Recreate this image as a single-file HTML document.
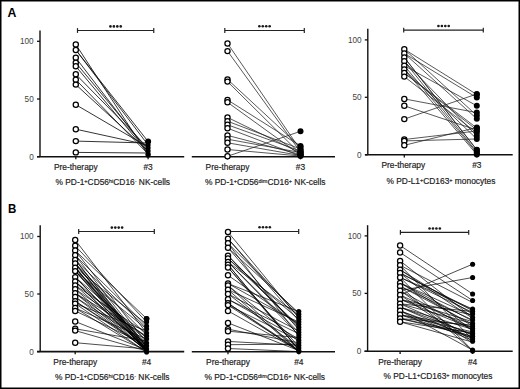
<!DOCTYPE html>
<html><head><meta charset="utf-8"><style>
html,body{margin:0;padding:0;background:#fff;}
body{width:520px;height:389px;overflow:hidden;}
svg{display:block;}
text{font-family:"Liberation Sans", sans-serif;}
.ya{stroke:#111;stroke-width:1.4;}
.xa{stroke:#111;stroke-width:1.6;}
.tk{stroke:#111;stroke-width:1.3;}
.sb{stroke:#222;stroke-width:1.2;}
.st{fill:#1a1a1a;}
.yl{font-size:8.2px;fill:#444;text-anchor:end;}
.xl{font-size:8.4px;fill:#222;stroke:#222;stroke-width:0.18px;}
.tt{font-size:8.4px;fill:#222;stroke:#222;stroke-width:0.18px;}
.sup{font-size:5.5px;}
.oc circle{fill:#fff;stroke:#000;stroke-width:1.25;}
.fc circle{fill:#000;}
.pl{font-size:12.3px;font-weight:bold;fill:#000;}
</style></head><body>
<svg width="520" height="389" viewBox="0 0 520 389">
<rect x="0.75" y="0.75" width="518.5" height="387.5" fill="#fff" stroke="#000" stroke-width="1.5"/>
<text x="7.4" y="16.8" class="pl">A</text>
<text x="8" y="212.9" class="pl" transform="translate(8 0) scale(0.94 1) translate(-8 0)">B</text>
<line x1="40" y1="30.5" x2="40" y2="156.7" class="ya"/>
<line x1="37" y1="41.3" x2="40" y2="41.3" class="tk"/>
<text x="33.7" y="44.2" class="yl">100</text>
<line x1="37" y1="99" x2="40" y2="99" class="tk"/>
<text x="33.7" y="101.9" class="yl">50</text>
<line x1="37" y1="156.7" x2="40" y2="156.7" class="tk"/>
<text x="33.7" y="159.6" class="yl">0</text>
<line x1="37" y1="156.7" x2="184.2" y2="156.7" class="xa"/>
<line x1="75.8" y1="156.7" x2="75.8" y2="159.3" class="tk"/>
<line x1="148.1" y1="156.7" x2="148.1" y2="159.3" class="tk"/>
<line x1="77.5" y1="30.5" x2="153.75" y2="30.5" class="sb"/>
<line x1="77.5" y1="28.1" x2="77.5" y2="32.9" class="sb"/>
<line x1="153.75" y1="28.1" x2="153.75" y2="32.9" class="sb"/>
<circle cx="110.45" cy="26.4" r="1.3" class="st"/>
<circle cx="113.88" cy="26.4" r="1.3" class="st"/>
<circle cx="117.31" cy="26.4" r="1.3" class="st"/>
<circle cx="120.74" cy="26.4" r="1.3" class="st"/>
<g stroke="#111" stroke-width="0.85"><line x1="75.8" y1="44.5" x2="148.1" y2="155"/><line x1="75.8" y1="49.9" x2="148.1" y2="141.5"/><line x1="75.8" y1="49.9" x2="148.1" y2="145"/><line x1="75.8" y1="57.8" x2="148.1" y2="152"/><line x1="75.8" y1="62.7" x2="148.1" y2="150"/><line x1="75.8" y1="66.3" x2="148.1" y2="153"/><line x1="75.8" y1="74.3" x2="148.1" y2="148"/><line x1="75.8" y1="79.7" x2="148.1" y2="154"/><line x1="75.8" y1="84.6" x2="148.1" y2="151"/><line x1="75.8" y1="104.7" x2="148.1" y2="147"/><line x1="75.8" y1="129.2" x2="148.1" y2="145"/><line x1="75.8" y1="141.1" x2="148.1" y2="143"/><line x1="75.8" y1="152.4" x2="148.1" y2="153"/></g>
<g class="oc"><circle cx="75.8" cy="44.5" r="2.6"/><circle cx="75.8" cy="49.9" r="2.6"/><circle cx="75.8" cy="57.8" r="2.6"/><circle cx="75.8" cy="62.7" r="2.6"/><circle cx="75.8" cy="66.3" r="2.6"/><circle cx="75.8" cy="74.3" r="2.6"/><circle cx="75.8" cy="79.7" r="2.6"/><circle cx="75.8" cy="84.6" r="2.6"/><circle cx="75.8" cy="104.7" r="2.6"/><circle cx="75.8" cy="129.2" r="2.6"/><circle cx="75.8" cy="141.1" r="2.6"/><circle cx="75.8" cy="152.4" r="2.6"/></g>
<g class="fc"><circle cx="148.1" cy="141.5" r="2.55"/><circle cx="148.1" cy="145" r="2.55"/><circle cx="148.1" cy="148" r="2.55"/><circle cx="148.1" cy="151" r="2.55"/><circle cx="148.1" cy="154" r="2.55"/><circle cx="148.1" cy="155" r="2.55"/></g>
<circle cx="148.1" cy="141.6" r="3"/>
<text x="75.8" y="170.2" class="xl" text-anchor="middle">Pre-therapy</text>
<text x="148.1" y="170.2" class="xl" text-anchor="middle">#3</text>
<text x="55.5" y="184.5" class="tt">% PD-1<tspan class="sup" dy="-2">+</tspan><tspan dy="2">CD56</tspan><tspan class="sup" dy="-2">hi</tspan><tspan dy="2">CD16</tspan><tspan class="sup" dy="-2">-</tspan><tspan dy="2"> NK-cells</tspan></text>
<line x1="191.8" y1="156.8" x2="335" y2="156.8" class="xa"/>
<line x1="227.5" y1="156.8" x2="227.5" y2="159.4" class="tk"/>
<line x1="300.5" y1="156.8" x2="300.5" y2="159.4" class="tk"/>
<line x1="224.8" y1="30.5" x2="304.3" y2="30.5" class="sb"/>
<line x1="224.8" y1="28.1" x2="224.8" y2="32.9" class="sb"/>
<line x1="304.3" y1="28.1" x2="304.3" y2="32.9" class="sb"/>
<circle cx="259.35" cy="26.2" r="1.3" class="st"/>
<circle cx="262.78" cy="26.2" r="1.3" class="st"/>
<circle cx="266.21" cy="26.2" r="1.3" class="st"/>
<circle cx="269.64" cy="26.2" r="1.3" class="st"/>
<g stroke="#222" stroke-width="0.75"><line x1="227.5" y1="43.4" x2="300.5" y2="150"/><line x1="227.5" y1="51.1" x2="300.5" y2="152"/><line x1="227.5" y1="79.4" x2="300.5" y2="147"/><line x1="227.5" y1="81.6" x2="300.5" y2="154"/><line x1="227.5" y1="99.9" x2="300.5" y2="146"/><line x1="227.5" y1="102.3" x2="300.5" y2="155"/><line x1="227.5" y1="117.4" x2="300.5" y2="153"/><line x1="227.5" y1="121.2" x2="300.5" y2="149"/><line x1="227.5" y1="124.8" x2="300.5" y2="151"/><line x1="227.5" y1="128.2" x2="300.5" y2="156"/><line x1="227.5" y1="135.4" x2="300.5" y2="154.5"/><line x1="227.5" y1="139.2" x2="300.5" y2="152.5"/><line x1="227.5" y1="142.8" x2="300.5" y2="155.5"/><line x1="227.5" y1="149.5" x2="300.5" y2="156"/><line x1="227.5" y1="156.3" x2="300.5" y2="131.3"/></g>
<g class="oc"><circle cx="227.5" cy="43.4" r="2.6"/><circle cx="227.5" cy="51.1" r="2.6"/><circle cx="227.5" cy="79.4" r="2.6"/><circle cx="227.5" cy="81.6" r="2.6"/><circle cx="227.5" cy="99.9" r="2.6"/><circle cx="227.5" cy="102.3" r="2.6"/><circle cx="227.5" cy="117.4" r="2.6"/><circle cx="227.5" cy="121.2" r="2.6"/><circle cx="227.5" cy="124.8" r="2.6"/><circle cx="227.5" cy="128.2" r="2.6"/><circle cx="227.5" cy="135.4" r="2.6"/><circle cx="227.5" cy="139.2" r="2.6"/><circle cx="227.5" cy="142.8" r="2.6"/><circle cx="227.5" cy="149.5" r="2.6"/><circle cx="227.5" cy="156.3" r="2.6"/></g>
<g class="fc"><circle cx="300.5" cy="131.3" r="3.0"/><circle cx="300.5" cy="146" r="3.0"/><circle cx="300.5" cy="147" r="3.0"/><circle cx="300.5" cy="149" r="3.0"/><circle cx="300.5" cy="150" r="3.0"/><circle cx="300.5" cy="151" r="3.0"/><circle cx="300.5" cy="152" r="3.0"/><circle cx="300.5" cy="152.5" r="3.0"/><circle cx="300.5" cy="153" r="3.0"/><circle cx="300.5" cy="154" r="3.0"/><circle cx="300.5" cy="154.5" r="3.0"/><circle cx="300.5" cy="155" r="3.0"/><circle cx="300.5" cy="155.5" r="3.0"/><circle cx="300.5" cy="156" r="3.0"/></g>
<text x="227.5" y="170.2" class="xl" text-anchor="middle">Pre-therapy</text>
<text x="300.5" y="170.2" class="xl" text-anchor="middle">#3</text>
<text x="205" y="184.5" class="tt">% PD-1<tspan class="sup" dy="-2">+</tspan><tspan dy="2">CD56</tspan><tspan class="sup" dy="-2">dim</tspan><tspan dy="2">CD16</tspan><tspan class="sup" dy="-2">+</tspan><tspan dy="2"> NK-cells</tspan></text>
<line x1="367.8" y1="28.7" x2="367.8" y2="154.8" class="ya"/>
<line x1="364.8" y1="39.9" x2="367.8" y2="39.9" class="tk"/>
<text x="361.6" y="42.8" class="yl">100</text>
<line x1="364.8" y1="97.3" x2="367.8" y2="97.3" class="tk"/>
<text x="361.6" y="100.2" class="yl">50</text>
<line x1="364.8" y1="154.8" x2="367.8" y2="154.8" class="tk"/>
<text x="361.6" y="157.7" class="yl">0</text>
<line x1="365" y1="154.8" x2="512.7" y2="154.8" class="xa"/>
<line x1="404.3" y1="154.8" x2="404.3" y2="157.4" class="tk"/>
<line x1="476.8" y1="154.8" x2="476.8" y2="157.4" class="tk"/>
<line x1="403.7" y1="30.1" x2="483.3" y2="30.1" class="sb"/>
<line x1="403.7" y1="27.7" x2="403.7" y2="32.5" class="sb"/>
<line x1="483.3" y1="27.7" x2="483.3" y2="32.5" class="sb"/>
<circle cx="438.45" cy="26" r="1.3" class="st"/>
<circle cx="441.88" cy="26" r="1.3" class="st"/>
<circle cx="445.31" cy="26" r="1.3" class="st"/>
<circle cx="448.74" cy="26" r="1.3" class="st"/>
<g stroke="#222" stroke-width="0.75"><line x1="404.3" y1="49.3" x2="476.8" y2="94.5"/><line x1="404.3" y1="53.4" x2="476.8" y2="97.6"/><line x1="404.3" y1="57.5" x2="476.8" y2="150"/><line x1="404.3" y1="61.2" x2="476.8" y2="152"/><line x1="404.3" y1="65.7" x2="476.8" y2="105.8"/><line x1="404.3" y1="69.4" x2="476.8" y2="154.5"/><line x1="404.3" y1="72.9" x2="476.8" y2="128"/><line x1="404.3" y1="76.6" x2="476.8" y2="133"/><line x1="404.3" y1="49.3" x2="476.8" y2="115.5"/><line x1="404.3" y1="53.4" x2="476.8" y2="118.8"/><line x1="404.3" y1="57.5" x2="476.8" y2="149.7"/><line x1="404.3" y1="61.2" x2="476.8" y2="136"/><line x1="404.3" y1="65.7" x2="476.8" y2="153"/><line x1="404.3" y1="69.4" x2="476.8" y2="139"/><line x1="404.3" y1="72.9" x2="476.8" y2="130"/><line x1="404.3" y1="98.9" x2="476.8" y2="112.6"/><line x1="404.3" y1="105.8" x2="476.8" y2="130"/><line x1="404.3" y1="119.1" x2="476.8" y2="94"/><line x1="404.3" y1="139.5" x2="476.8" y2="131"/><line x1="404.3" y1="140.9" x2="476.8" y2="139"/><line x1="404.3" y1="145.3" x2="476.8" y2="127.5"/></g>
<g class="oc"><circle cx="404.3" cy="49.3" r="2.6"/><circle cx="404.3" cy="53.4" r="2.6"/><circle cx="404.3" cy="57.5" r="2.6"/><circle cx="404.3" cy="61.2" r="2.6"/><circle cx="404.3" cy="65.7" r="2.6"/><circle cx="404.3" cy="69.4" r="2.6"/><circle cx="404.3" cy="72.9" r="2.6"/><circle cx="404.3" cy="76.6" r="2.6"/><circle cx="404.3" cy="98.9" r="2.6"/><circle cx="404.3" cy="105.8" r="2.6"/><circle cx="404.3" cy="119.1" r="2.6"/><circle cx="404.3" cy="139.5" r="2.6"/><circle cx="404.3" cy="140.9" r="2.6"/><circle cx="404.3" cy="145.3" r="2.6"/></g>
<g class="fc"><circle cx="476.8" cy="94" r="3.0"/><circle cx="476.8" cy="94.5" r="3.0"/><circle cx="476.8" cy="97.6" r="3.0"/><circle cx="476.8" cy="105.8" r="3.0"/><circle cx="476.8" cy="112.6" r="3.0"/><circle cx="476.8" cy="115.5" r="3.0"/><circle cx="476.8" cy="118.8" r="3.0"/><circle cx="476.8" cy="127.5" r="3.0"/><circle cx="476.8" cy="128" r="3.0"/><circle cx="476.8" cy="130" r="3.0"/><circle cx="476.8" cy="131" r="3.0"/><circle cx="476.8" cy="133" r="3.0"/><circle cx="476.8" cy="136" r="3.0"/><circle cx="476.8" cy="139" r="3.0"/><circle cx="476.8" cy="149.7" r="3.0"/><circle cx="476.8" cy="150" r="3.0"/><circle cx="476.8" cy="152" r="3.0"/><circle cx="476.8" cy="153" r="3.0"/><circle cx="476.8" cy="154.5" r="3.0"/></g>
<text x="403.3" y="168.4" class="xl" text-anchor="middle">Pre-therapy</text>
<text x="476.8" y="168.4" class="xl" text-anchor="middle">#3</text>
<text x="386.5" y="184" class="tt">% PD-L1<tspan class="sup" dy="-2">+</tspan><tspan dy="2">CD163</tspan><tspan class="sup" dy="-2">+</tspan><tspan dy="2"> monocytes</tspan></text>
<line x1="40.2" y1="225.3" x2="40.2" y2="351.6" class="ya"/>
<line x1="37.2" y1="236.5" x2="40.2" y2="236.5" class="tk"/>
<text x="33.7" y="239.4" class="yl">100</text>
<line x1="37.2" y1="294" x2="40.2" y2="294" class="tk"/>
<text x="33.7" y="296.9" class="yl">50</text>
<line x1="37.2" y1="351.6" x2="40.2" y2="351.6" class="tk"/>
<text x="33.7" y="354.5" class="yl">0</text>
<line x1="37" y1="351.6" x2="184.2" y2="351.6" class="xa"/>
<line x1="75.2" y1="351.6" x2="75.2" y2="354.2" class="tk"/>
<line x1="146.6" y1="351.6" x2="146.6" y2="354.2" class="tk"/>
<line x1="78.7" y1="231.5" x2="154.3" y2="231.5" class="sb"/>
<line x1="78.7" y1="229.1" x2="78.7" y2="233.9" class="sb"/>
<line x1="154.3" y1="229.1" x2="154.3" y2="233.9" class="sb"/>
<circle cx="111.85" cy="227.6" r="1.3" class="st"/>
<circle cx="115.28" cy="227.6" r="1.3" class="st"/>
<circle cx="118.71" cy="227.6" r="1.3" class="st"/>
<circle cx="122.14" cy="227.6" r="1.3" class="st"/>
<g stroke="#000" stroke-width="0.7"><line x1="75.2" y1="240" x2="146.6" y2="333"/><line x1="75.2" y1="245.8" x2="146.6" y2="322"/><line x1="75.2" y1="250.5" x2="146.6" y2="318.6"/><line x1="75.2" y1="255.3" x2="146.6" y2="326"/><line x1="75.2" y1="259.9" x2="146.6" y2="350"/><line x1="75.2" y1="263.5" x2="146.6" y2="335"/><line x1="75.2" y1="267.8" x2="146.6" y2="346"/><line x1="75.2" y1="271.1" x2="146.6" y2="329"/><line x1="75.2" y1="277.1" x2="146.6" y2="351"/><line x1="75.2" y1="281.5" x2="146.6" y2="340"/><line x1="75.2" y1="285.4" x2="146.6" y2="348"/><line x1="75.2" y1="289.2" x2="146.6" y2="337"/><line x1="75.2" y1="293.1" x2="146.6" y2="351"/><line x1="75.2" y1="297" x2="146.6" y2="343"/><line x1="75.2" y1="301.2" x2="146.6" y2="349"/><line x1="75.2" y1="303.6" x2="146.6" y2="331"/><line x1="75.2" y1="308" x2="146.6" y2="352"/><line x1="75.2" y1="310.9" x2="146.6" y2="345"/><line x1="75.2" y1="321.5" x2="146.6" y2="350"/><line x1="75.2" y1="328.8" x2="146.6" y2="341"/><line x1="75.2" y1="330.6" x2="146.6" y2="351"/><line x1="75.2" y1="342.7" x2="146.6" y2="349"/><line x1="75.2" y1="263.5" x2="146.6" y2="351"/><line x1="75.2" y1="267.8" x2="146.6" y2="324"/><line x1="75.2" y1="267.8" x2="146.6" y2="349"/><line x1="75.2" y1="271.1" x2="146.6" y2="352"/><line x1="75.2" y1="277.1" x2="146.6" y2="338"/><line x1="75.2" y1="281.5" x2="146.6" y2="350"/><line x1="75.2" y1="285.4" x2="146.6" y2="333"/><line x1="75.2" y1="289.2" x2="146.6" y2="351"/><line x1="75.2" y1="293.1" x2="146.6" y2="344"/><line x1="75.2" y1="297" x2="146.6" y2="350"/><line x1="75.2" y1="301.2" x2="146.6" y2="347"/><line x1="75.2" y1="303.6" x2="146.6" y2="352"/><line x1="75.2" y1="308" x2="146.6" y2="339"/><line x1="75.2" y1="255.3" x2="146.6" y2="347"/><line x1="75.2" y1="250.5" x2="146.6" y2="343"/><line x1="75.2" y1="259.9" x2="146.6" y2="328"/><line x1="75.2" y1="281.5" x2="146.6" y2="352"/><line x1="75.2" y1="293.1" x2="146.6" y2="336"/><line x1="75.2" y1="271.1" x2="146.6" y2="344"/><line x1="75.2" y1="263.5" x2="146.6" y2="350"/><line x1="75.2" y1="267.8" x2="146.6" y2="351"/><line x1="75.2" y1="271.1" x2="146.6" y2="349"/><line x1="75.2" y1="259.9" x2="146.6" y2="348"/><line x1="75.2" y1="267.8" x2="146.6" y2="352"/><line x1="75.2" y1="277.1" x2="146.6" y2="350"/><line x1="75.2" y1="263.5" x2="146.6" y2="347"/></g>
<g class="oc"><circle cx="75.2" cy="240" r="2.6"/><circle cx="75.2" cy="245.8" r="2.6"/><circle cx="75.2" cy="250.5" r="2.6"/><circle cx="75.2" cy="255.3" r="2.6"/><circle cx="75.2" cy="259.9" r="2.6"/><circle cx="75.2" cy="263.5" r="2.6"/><circle cx="75.2" cy="267.8" r="2.6"/><circle cx="75.2" cy="271.1" r="2.6"/><circle cx="75.2" cy="277.1" r="2.6"/><circle cx="75.2" cy="281.5" r="2.6"/><circle cx="75.2" cy="285.4" r="2.6"/><circle cx="75.2" cy="289.2" r="2.6"/><circle cx="75.2" cy="293.1" r="2.6"/><circle cx="75.2" cy="297" r="2.6"/><circle cx="75.2" cy="301.2" r="2.6"/><circle cx="75.2" cy="303.6" r="2.6"/><circle cx="75.2" cy="308" r="2.6"/><circle cx="75.2" cy="310.9" r="2.6"/><circle cx="75.2" cy="321.5" r="2.6"/><circle cx="75.2" cy="328.8" r="2.6"/><circle cx="75.2" cy="330.6" r="2.6"/><circle cx="75.2" cy="342.7" r="2.6"/></g>
<g class="fc"><circle cx="146.6" cy="318.6" r="2.55"/><circle cx="146.6" cy="322" r="2.55"/><circle cx="146.6" cy="326" r="2.55"/><circle cx="146.6" cy="329" r="2.55"/><circle cx="146.6" cy="333" r="2.55"/><circle cx="146.6" cy="336" r="2.55"/><circle cx="146.6" cy="339" r="2.55"/><circle cx="146.6" cy="343" r="2.55"/><circle cx="146.6" cy="346" r="2.55"/><circle cx="146.6" cy="349" r="2.55"/><circle cx="146.6" cy="352" r="2.55"/></g>
<circle cx="146.6" cy="318.8" r="2.9"/>
<text x="75.2" y="365" class="xl" text-anchor="middle">Pre-therapy</text>
<text x="146.6" y="365" class="xl" text-anchor="middle">#4</text>
<text x="55" y="379.6" class="tt">% PD-1<tspan class="sup" dy="-2">+</tspan><tspan dy="2">CD56</tspan><tspan class="sup" dy="-2">hi</tspan><tspan dy="2">CD16</tspan><tspan class="sup" dy="-2">-</tspan><tspan dy="2"> NK-cells</tspan></text>
<line x1="191.8" y1="351.7" x2="335" y2="351.7" class="xa"/>
<line x1="228" y1="351.7" x2="228" y2="354.3" class="tk"/>
<line x1="298.8" y1="351.7" x2="298.8" y2="354.3" class="tk"/>
<line x1="228" y1="231.5" x2="298.7" y2="231.5" class="sb"/>
<line x1="228" y1="229.1" x2="228" y2="233.9" class="sb"/>
<line x1="298.7" y1="229.1" x2="298.7" y2="233.9" class="sb"/>
<circle cx="259.55" cy="227.3" r="1.3" class="st"/>
<circle cx="262.98" cy="227.3" r="1.3" class="st"/>
<circle cx="266.41" cy="227.3" r="1.3" class="st"/>
<circle cx="269.84" cy="227.3" r="1.3" class="st"/>
<g stroke="#000" stroke-width="0.7"><line x1="228" y1="232" x2="298.8" y2="318.1"/><line x1="228" y1="238.7" x2="298.8" y2="320.7"/><line x1="228" y1="243.3" x2="298.8" y2="336.3"/><line x1="228" y1="247.8" x2="298.8" y2="329.8"/><line x1="228" y1="255.7" x2="298.8" y2="327.2"/><line x1="228" y1="258.5" x2="298.8" y2="319.4"/><line x1="228" y1="262" x2="298.8" y2="332.4"/><line x1="228" y1="264.7" x2="298.8" y2="349.75"/><line x1="228" y1="267.5" x2="298.8" y2="349.3"/><line x1="228" y1="275.3" x2="298.8" y2="324.6"/><line x1="228" y1="283.5" x2="298.8" y2="311.6"/><line x1="228" y1="285.5" x2="298.8" y2="351.25"/><line x1="228" y1="289.7" x2="298.8" y2="351.48"/><line x1="228" y1="293.9" x2="298.8" y2="348"/><line x1="228" y1="299.3" x2="298.8" y2="338.9"/><line x1="228" y1="303.2" x2="298.8" y2="350.18"/><line x1="228" y1="305.1" x2="298.8" y2="350.6"/><line x1="228" y1="310.9" x2="298.8" y2="350.73"/><line x1="228" y1="322.9" x2="298.8" y2="350.6"/><line x1="228" y1="329.2" x2="298.8" y2="342.8"/><line x1="228" y1="331.2" x2="298.8" y2="337.6"/><line x1="228" y1="341.4" x2="298.8" y2="345.4"/><line x1="228" y1="344.7" x2="298.8" y2="344.1"/><line x1="228" y1="348.5" x2="298.8" y2="351.59"/><line x1="228" y1="255.7" x2="298.8" y2="328.5"/><line x1="228" y1="258.5" x2="298.8" y2="325.9"/><line x1="228" y1="262" x2="298.8" y2="335"/><line x1="228" y1="264.7" x2="298.8" y2="350.09"/><line x1="228" y1="283.5" x2="298.8" y2="323.3"/><line x1="228" y1="285.5" x2="298.8" y2="341.5"/><line x1="228" y1="289.7" x2="298.8" y2="322"/><line x1="228" y1="293.9" x2="298.8" y2="331.1"/><line x1="228" y1="299.3" x2="298.8" y2="333.7"/><line x1="228" y1="303.2" x2="298.8" y2="351.53"/><line x1="228" y1="305.1" x2="298.8" y2="340.2"/><line x1="228" y1="243.3" x2="298.8" y2="314.2"/><line x1="228" y1="247.8" x2="298.8" y2="312.9"/><line x1="228" y1="238.7" x2="298.8" y2="316.8"/><line x1="228" y1="267.5" x2="298.8" y2="346.7"/><line x1="228" y1="262" x2="298.8" y2="315.5"/></g>
<g class="oc"><circle cx="228" cy="232" r="2.6"/><circle cx="228" cy="238.7" r="2.6"/><circle cx="228" cy="243.3" r="2.6"/><circle cx="228" cy="247.8" r="2.6"/><circle cx="228" cy="255.7" r="2.6"/><circle cx="228" cy="258.5" r="2.6"/><circle cx="228" cy="262" r="2.6"/><circle cx="228" cy="264.7" r="2.6"/><circle cx="228" cy="267.5" r="2.6"/><circle cx="228" cy="275.3" r="2.6"/><circle cx="228" cy="283.5" r="2.6"/><circle cx="228" cy="285.5" r="2.6"/><circle cx="228" cy="289.7" r="2.6"/><circle cx="228" cy="293.9" r="2.6"/><circle cx="228" cy="299.3" r="2.6"/><circle cx="228" cy="303.2" r="2.6"/><circle cx="228" cy="305.1" r="2.6"/><circle cx="228" cy="310.9" r="2.6"/><circle cx="228" cy="322.9" r="2.6"/><circle cx="228" cy="329.2" r="2.6"/><circle cx="228" cy="331.2" r="2.6"/><circle cx="228" cy="341.4" r="2.6"/><circle cx="228" cy="344.7" r="2.6"/><circle cx="228" cy="348.5" r="2.6"/></g>
<g class="fc"><circle cx="298.8" cy="311.6" r="2.55"/><circle cx="298.8" cy="314.2" r="2.55"/><circle cx="298.8" cy="316.8" r="2.55"/><circle cx="298.8" cy="319.4" r="2.55"/><circle cx="298.8" cy="322" r="2.55"/><circle cx="298.8" cy="324.6" r="2.55"/><circle cx="298.8" cy="327.2" r="2.55"/><circle cx="298.8" cy="329.8" r="2.55"/><circle cx="298.8" cy="332.4" r="2.55"/><circle cx="298.8" cy="335" r="2.55"/><circle cx="298.8" cy="337.6" r="2.55"/><circle cx="298.8" cy="340.2" r="2.55"/><circle cx="298.8" cy="342.8" r="2.55"/><circle cx="298.8" cy="345.4" r="2.55"/><circle cx="298.8" cy="348" r="2.55"/><circle cx="298.8" cy="350.6" r="2.55"/><circle cx="298.8" cy="351.59" r="2.55"/></g>
<text x="228" y="365" class="xl" text-anchor="middle">Pre-therapy</text>
<text x="298.8" y="365" class="xl" text-anchor="middle">#4</text>
<text x="204.5" y="379.6" class="tt">% PD-1<tspan class="sup" dy="-2">+</tspan><tspan dy="2">CD56</tspan><tspan class="sup" dy="-2">dim</tspan><tspan dy="2">CD16</tspan><tspan class="sup" dy="-2">+</tspan><tspan dy="2"> NK-cells</tspan></text>
<line x1="367.6" y1="225.2" x2="367.6" y2="351.3" class="ya"/>
<line x1="364.6" y1="235.9" x2="367.6" y2="235.9" class="tk"/>
<text x="361.4" y="238.8" class="yl">100</text>
<line x1="364.6" y1="293.4" x2="367.6" y2="293.4" class="tk"/>
<text x="361.4" y="296.3" class="yl">50</text>
<line x1="364.6" y1="351.3" x2="367.6" y2="351.3" class="tk"/>
<text x="361.4" y="354.2" class="yl">0</text>
<line x1="364.5" y1="351.3" x2="512.7" y2="351.3" class="xa"/>
<line x1="400.1" y1="351.3" x2="400.1" y2="353.9" class="tk"/>
<line x1="472.6" y1="351.3" x2="472.6" y2="353.9" class="tk"/>
<line x1="400.4" y1="232.4" x2="468.7" y2="232.4" class="sb"/>
<line x1="400.4" y1="230" x2="400.4" y2="234.8" class="sb"/>
<line x1="468.7" y1="230" x2="468.7" y2="234.8" class="sb"/>
<circle cx="429.55" cy="228.5" r="1.3" class="st"/>
<circle cx="432.98" cy="228.5" r="1.3" class="st"/>
<circle cx="436.41" cy="228.5" r="1.3" class="st"/>
<circle cx="439.84" cy="228.5" r="1.3" class="st"/>
<g stroke="#000" stroke-width="0.7"><line x1="400.1" y1="245.5" x2="472.6" y2="294"/><line x1="400.1" y1="252.5" x2="472.6" y2="300.5"/><line x1="400.1" y1="260.9" x2="472.6" y2="317.5"/><line x1="400.1" y1="265.3" x2="472.6" y2="302.5"/><line x1="400.1" y1="269.7" x2="472.6" y2="314.1"/><line x1="400.1" y1="273" x2="472.6" y2="309.85"/><line x1="400.1" y1="277.4" x2="472.6" y2="309"/><line x1="400.1" y1="282.9" x2="472.6" y2="315.8"/><line x1="400.1" y1="286.2" x2="472.6" y2="320.05"/><line x1="400.1" y1="290.6" x2="472.6" y2="277.5"/><line x1="400.1" y1="295" x2="472.6" y2="264.2"/><line x1="400.1" y1="299.4" x2="472.6" y2="321.75"/><line x1="400.1" y1="303.8" x2="472.6" y2="311.55"/><line x1="400.1" y1="307.1" x2="472.6" y2="338.75"/><line x1="400.1" y1="310.8" x2="472.6" y2="350.05"/><line x1="400.1" y1="314.8" x2="472.6" y2="331.95"/><line x1="400.1" y1="318.5" x2="472.6" y2="333.65"/><line x1="400.1" y1="321.8" x2="472.6" y2="332.8"/><line x1="400.1" y1="269.7" x2="472.6" y2="318.35"/><line x1="400.1" y1="273" x2="472.6" y2="310.7"/><line x1="400.1" y1="277.4" x2="472.6" y2="350.44"/><line x1="400.1" y1="282.9" x2="472.6" y2="326"/><line x1="400.1" y1="286.2" x2="472.6" y2="324.3"/><line x1="400.1" y1="290.6" x2="472.6" y2="341.3"/><line x1="400.1" y1="295" x2="472.6" y2="327.7"/><line x1="400.1" y1="299.4" x2="472.6" y2="328.55"/><line x1="400.1" y1="303.8" x2="472.6" y2="323.45"/><line x1="400.1" y1="307.1" x2="472.6" y2="334.5"/><line x1="400.1" y1="310.8" x2="472.6" y2="337.05"/><line x1="400.1" y1="314.8" x2="472.6" y2="337.9"/><line x1="400.1" y1="318.5" x2="472.6" y2="336.2"/><line x1="400.1" y1="282.9" x2="472.6" y2="320.9"/><line x1="400.1" y1="290.6" x2="472.6" y2="330.25"/><line x1="400.1" y1="295" x2="472.6" y2="343"/><line x1="400.1" y1="303.8" x2="472.6" y2="335.35"/><line x1="400.1" y1="307.1" x2="472.6" y2="329.4"/><line x1="400.1" y1="277.4" x2="472.6" y2="312.4"/><line x1="400.1" y1="273" x2="472.6" y2="331.1"/><line x1="400.1" y1="265.3" x2="472.6" y2="339.6"/><line x1="400.1" y1="299.4" x2="472.6" y2="314.95"/><line x1="400.1" y1="310.8" x2="472.6" y2="340.45"/><line x1="400.1" y1="314.8" x2="472.6" y2="326.85"/><line x1="400.1" y1="318.5" x2="472.6" y2="325.15"/><line x1="400.1" y1="321.8" x2="472.6" y2="342.15"/><line x1="400.1" y1="286.2" x2="472.6" y2="350.95"/></g>
<g class="oc"><circle cx="400.1" cy="245.5" r="2.6"/><circle cx="400.1" cy="252.5" r="2.6"/><circle cx="400.1" cy="260.9" r="2.6"/><circle cx="400.1" cy="265.3" r="2.6"/><circle cx="400.1" cy="269.7" r="2.6"/><circle cx="400.1" cy="273" r="2.6"/><circle cx="400.1" cy="277.4" r="2.6"/><circle cx="400.1" cy="282.9" r="2.6"/><circle cx="400.1" cy="286.2" r="2.6"/><circle cx="400.1" cy="290.6" r="2.6"/><circle cx="400.1" cy="295" r="2.6"/><circle cx="400.1" cy="299.4" r="2.6"/><circle cx="400.1" cy="303.8" r="2.6"/><circle cx="400.1" cy="307.1" r="2.6"/><circle cx="400.1" cy="310.8" r="2.6"/><circle cx="400.1" cy="314.8" r="2.6"/><circle cx="400.1" cy="318.5" r="2.6"/><circle cx="400.1" cy="321.8" r="2.6"/></g>
<g class="fc"><circle cx="472.6" cy="264.2" r="2.55"/><circle cx="472.6" cy="277.5" r="2.55"/><circle cx="472.6" cy="294" r="2.55"/><circle cx="472.6" cy="300.5" r="2.55"/><circle cx="472.6" cy="309" r="2.55"/><circle cx="472.6" cy="311.55" r="2.55"/><circle cx="472.6" cy="314.1" r="2.55"/><circle cx="472.6" cy="317.5" r="2.55"/><circle cx="472.6" cy="320.05" r="2.55"/><circle cx="472.6" cy="323.45" r="2.55"/><circle cx="472.6" cy="326" r="2.55"/><circle cx="472.6" cy="328.55" r="2.55"/><circle cx="472.6" cy="331.1" r="2.55"/><circle cx="472.6" cy="333.65" r="2.55"/><circle cx="472.6" cy="336.2" r="2.55"/><circle cx="472.6" cy="338.75" r="2.55"/><circle cx="472.6" cy="341.3" r="2.55"/><circle cx="472.6" cy="350.05" r="2.55"/><circle cx="472.6" cy="350.95" r="2.55"/></g>
<text x="400.1" y="365" class="xl" text-anchor="middle">Pre-therapy</text>
<text x="472.6" y="365" class="xl" text-anchor="middle">#4</text>
<text x="383.5" y="379.2" class="tt">% PD-L1<tspan class="sup" dy="-2">+</tspan><tspan dy="2">CD163</tspan><tspan class="sup" dy="-2">+</tspan><tspan dy="2"> monocytes</tspan></text>
</svg>
</body></html>
